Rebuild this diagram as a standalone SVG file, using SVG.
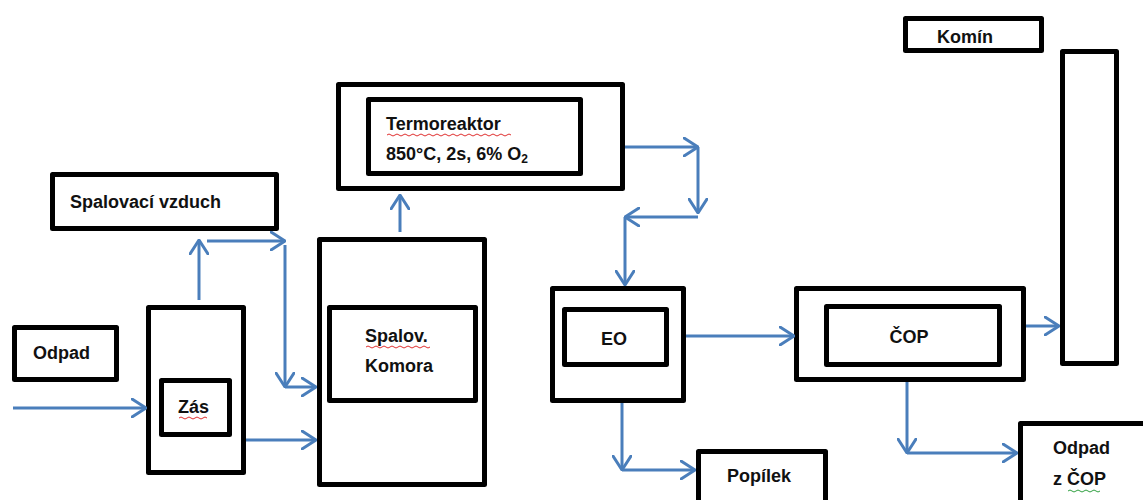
<svg xmlns="http://www.w3.org/2000/svg" width="1143" height="500" viewBox="0 0 1143 500">
<style>
.box{fill:none;stroke:#000;stroke-width:5;stroke-linejoin:round}
.lbl{font-family:"Liberation Sans",Arial,sans-serif;font-weight:bold;font-size:18px;fill:#111}
.mid{text-anchor:middle}
.con path{fill:none;stroke:#4a7ebb;stroke-width:3;marker-end:url(#arr)}
.sq{fill:none;stroke:#e03030;stroke-width:1}
.sqg{fill:none;stroke:#2fa040;stroke-width:1}
</style>
<defs>
<marker id="arr" viewBox="0 0 16 20" refX="15" refY="10" markerWidth="16" markerHeight="20" markerUnits="userSpaceOnUse" orient="auto">
<path d="M1,1 L15,10 L1,19" fill="none" stroke="#4a7ebb" stroke-width="3" stroke-linecap="round" stroke-linejoin="round"/>
</marker>
</defs>
<rect width="1143" height="500" fill="#fff"/>
<g id="spalovaci-vzduch"><rect class="box" x="52.5" y="174.5" width="224" height="54"/><text class="lbl" x="70" y="208">Spalovací vzduch</text></g>
<g id="odpad"><rect class="box" x="14.5" y="327.5" width="102" height="52"/><text class="lbl" x="33" y="359">Odpad</text></g>
<g id="zas"><rect class="box" x="148.5" y="307.5" width="95" height="165"/><rect class="box" x="161.5" y="380.5" width="68" height="54"/><text class="lbl" x="178" y="413">Zás</text><path class="sq" d="M179,418 q2,-2 4,0 t4,0 t4,0 t4,0 t4,0 t4,0 t4,0"/></g>
<g id="termoreaktor"><rect class="box" x="338.5" y="84.5" width="284" height="104"/><rect class="box" x="368.5" y="99.5" width="212" height="74"/><text class="lbl" x="386" y="130">Termoreaktor</text><path class="sq" d="M387,135 q2,-2 4,0 t4,0 t4,0 t4,0 t4,0 t4,0 t4,0 t4,0 t4,0 t4,0 t4,0 t4,0 t4,0 t4,0 t4,0 t4,0 t4,0 t4,0 t4,0 t4,0 t4,0 t4,0 t4,0 t4,0 t4,0 t4,0 t4,0 t4,0 t4,0 t4,0 t4,0"/><text class="lbl" x="386" y="160">850°C, 2s, 6% O<tspan font-size="12" dy="3">2</tspan></text></g>
<g id="spalov-komora"><rect class="box" x="319.5" y="239.5" width="165" height="245"/><rect class="box" x="329.5" y="307.5" width="146" height="93"/><text class="lbl" x="365" y="342">Spalov.</text><path class="sq" d="M366,347 q2,-2 4,0 t4,0 t4,0 t4,0 t4,0 t4,0 t4,0 t4,0 t4,0 t4,0 t4,0 t4,0 t4,0 t4,0 t4,0 t4,0"/><text class="lbl" x="365" y="372">Komora</text></g>
<g id="eo"><rect class="box" x="552.5" y="288.5" width="131" height="112"/><rect class="box" x="564.5" y="309.5" width="102" height="55"/><text class="lbl mid" x="614" y="345">EO</text></g>
<g id="cop"><rect class="box" x="796.5" y="288.5" width="227" height="91"/><rect class="box" x="826.5" y="306.5" width="173" height="58"/><text class="lbl mid" x="909" y="343">ČOP</text></g>
<g id="komin"><rect class="box" x="905.5" y="18.5" width="136" height="32"/><text class="lbl" x="937" y="43">Komín</text></g>
<g id="chimney"><rect class="box" x="1062.5" y="51.5" width="54" height="312"/></g>
<g id="popilek"><rect class="box" x="698.5" y="451.5" width="127" height="60"/><text class="lbl" x="727" y="482">Popílek</text></g>
<g id="odpad-z-cop"><rect class="box" x="1020.5" y="423.5" width="140" height="100"/><text class="lbl" x="1053" y="454">Odpad</text><text class="lbl" x="1053" y="485">z ČOP</text><path class="sqg" d="M1068,491 q2,-2 4,0 t4,0 t4,0 t4,0 t4,0 t4,0 t4,0 t4,0"/></g>
<g id="connectors" class="con">
<path d="M13,408 H146"/>
<path d="M199,300 V240"/>
<path d="M207,241 H285"/>
<path d="M285,245 V387"/>
<path d="M285,387 H316"/>
<path d="M246,440 H316"/>
<path d="M400,232 V195"/>
<path d="M625,147 H698"/>
<path d="M698,147 V213"/>
<path d="M698,217 H625"/>
<path d="M625,217 V285"/>
<path d="M686,336 H794"/>
<path d="M622,403 V470"/>
<path d="M622,470 H695"/>
<path d="M1026,326 H1059"/>
<path d="M907,382 V453"/>
<path d="M907,453 H1017"/>
</g>
</svg>
